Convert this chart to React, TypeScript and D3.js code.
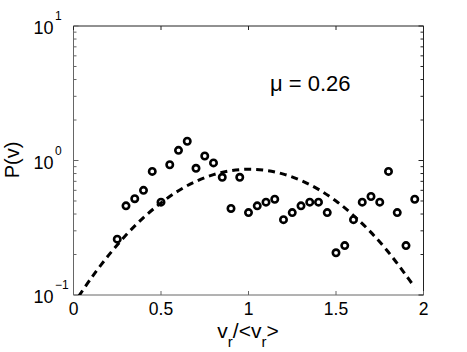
import React, { useMemo } from "react";
import * as d3 from "d3";

// measured points (v_r/<v_r>, P)
const vr = [
  0.25, 0.3, 0.35, 0.4, 0.45, 0.5, 0.55, 0.6, 0.65, 0.7, 0.75, 0.8, 0.85, 0.9,
  0.95, 1.0, 1.05, 1.1, 1.15, 1.2, 1.25, 1.3, 1.35, 1.4, 1.45, 1.5, 1.55, 1.6,
  1.65, 1.7, 1.75, 1.8, 1.85, 1.9, 1.95,
];
const pv = [
  0.26, 0.46, 0.52, 0.6, 0.83, 0.49, 0.93, 1.19, 1.39, 0.875, 1.08, 0.96, 0.75,
  0.44, 0.75, 0.41, 0.46, 0.49, 0.515, 0.363, 0.41, 0.46, 0.49, 0.49, 0.41,
  0.206, 0.233, 0.363, 0.49, 0.54, 0.49, 0.83, 0.41, 0.233, 0.515,
];

// dashed fit curve
const fitX = [
  0.03, 0.1, 0.2, 0.3, 0.4, 0.5, 0.6, 0.7, 0.8, 0.9, 1.0, 1.1, 1.2, 1.3, 1.4,
  1.5, 1.6, 1.7, 1.8, 1.9, 1.95,
];
const fitP = [
  0.098, 0.133, 0.197, 0.279, 0.376, 0.484, 0.596, 0.7, 0.785, 0.841, 0.861,
  0.845, 0.792, 0.71, 0.61, 0.5, 0.39, 0.292, 0.208, 0.14, 0.114,
];

const xTicks = [0, 0.5, 1, 1.5, 2];
const xTickLabels = ["0", "0.5", "1", "1.5", "2"];
const yDecades = [0.1, 1, 10];
const yExponents = ["\u22121", "0", "1"];
const annotation = "\u03bc = 0.26";

const W = 467;
const H = 352;
const margin = { left: 73.5, top: 26, right: 43.5, bottom: 57 };
const font = "Helvetica, 'Liberation Sans', Arial, sans-serif";

export default function App() {
  const x = useMemo(
    () => d3.scaleLinear().domain([0, 2]).range([margin.left, W - margin.right]),
    []
  );
  const y = useMemo(
    () =>
      d3.scaleLog().domain([0.1, 10]).range([H - margin.bottom, margin.top]),
    []
  );

  const fitLine = d3
    .line<number>()
    .x((d, i) => x(fitX[i]))
    .y((d) => y(d))
    .curve(d3.curveCatmullRom);

  const minorTicks = y.ticks().filter((t) => !yDecades.includes(t));

  const [x0, x1] = x.range();
  const [y0, y1] = y.range();
  const axisDark = "#222";
  const axisLight = "#666";

  return (
    <svg
      width={W}
      height={H}
      style={{ position: "absolute", left: 0, top: 0, background: "#fff" }}
      fontFamily={font}
    >
      <defs>
        <clipPath id="plot">
          <rect x={x0} y={y1} width={x1 - x0} height={y0 - y1} />
        </clipPath>
      </defs>

      {/* box */}
      <line x1={x0} x2={x1} y1={y1} y2={y1} stroke={axisDark} />
      <line x1={x1} x2={x1} y1={y1} y2={y0} stroke={axisDark} />
      <line x1={x0} x2={x0} y1={y1} y2={y0} stroke={axisLight} />
      <line x1={x0} x2={x1} y1={y0} y2={y0} stroke={axisLight} />

      {/* x ticks */}
      {xTicks.map((t, i) => (
        <g key={"xt" + i}>
          <line x1={x(t)} x2={x(t)} y1={y0} y2={y0 - 4} stroke={axisLight} />
          <line x1={x(t)} x2={x(t)} y1={y1} y2={y1 + 4} stroke={axisDark} />
          <text
            x={x(t)}
            y={314.5}
            textAnchor="middle"
            fontSize={17.5}
            fill="#000"
          >
            {xTickLabels[i]}
          </text>
        </g>
      ))}

      {/* y ticks */}
      {yDecades.map((t, i) => (
        <g key={"yt" + i}>
          <line x1={x0} x2={x0 + 5} y1={y(t)} y2={y(t)} stroke={axisLight} />
          <line x1={x1} x2={x1 - 5} y1={y(t)} y2={y(t)} stroke={axisDark} />
          <text x={53.5} y={y(t) + 8} textAnchor="end" fontSize={18} fill="#000">
            10
          </text>
          <text x={55} y={y(t) - 6} textAnchor="start" fontSize={12} fill="#000">
            {yExponents[i]}
          </text>
        </g>
      ))}
      {minorTicks.map((t, i) => (
        <g key={"ym" + i}>
          <line x1={x0} x2={x0 + 3} y1={y(t)} y2={y(t)} stroke={axisLight} />
          <line x1={x1} x2={x1 - 3} y1={y(t)} y2={y(t)} stroke={axisDark} />
        </g>
      ))}

      {/* fit curve */}
      <g clipPath="url(#plot)">
        <path
          d={fitLine(fitP) || ""}
          fill="none"
          stroke="#000"
          strokeWidth={3}
          strokeDasharray="7 5"
        />
      </g>

      {/* data */}
      <g>
        {vr.map((v, i) => (
          <circle
            key={i}
            cx={x(v)}
            cy={y(pv[i])}
            r={3.2}
            fill="none"
            stroke="#000"
            strokeWidth={2.6}
          />
        ))}
      </g>

      {/* labels */}
      <text x={270} y={91} fontSize={22} fill="#000">
        {annotation}
      </text>
      <text
        transform={`translate(18.5, 160) rotate(-90)`}
        textAnchor="middle"
        fontSize={20}
        fill="#000"
      >
        P(v)
      </text>
      <text x={248} y={337.5} textAnchor="middle" fontSize={21} fill="#000">
        v
        <tspan fontSize={15} dy={9}>
          r
        </tspan>
        <tspan dy={-9}>/&lt;v</tspan>
        <tspan fontSize={15} dy={9}>
          r
        </tspan>
        <tspan dy={-9}>&gt;</tspan>
      </text>
    </svg>
  );
}
